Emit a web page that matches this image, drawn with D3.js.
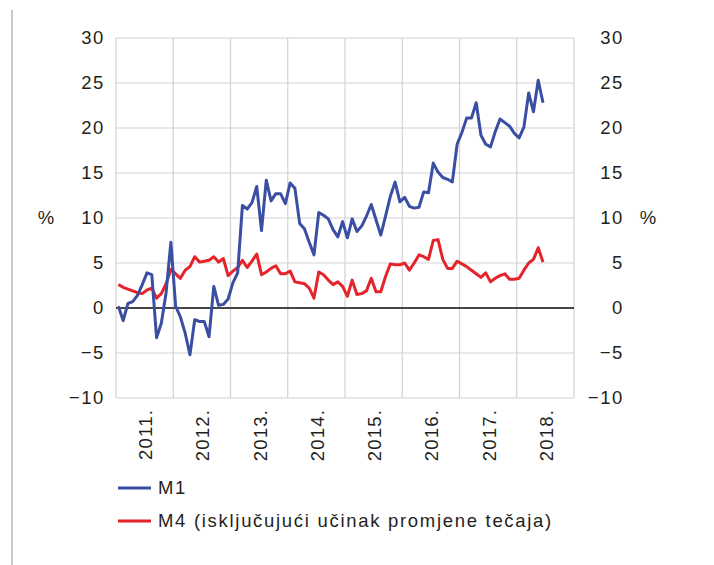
<!DOCTYPE html>
<html>
<head>
<meta charset="utf-8">
<script src="https://cdn.jsdelivr.net/npm/d3@7"></script>
<style>
  body { margin: 0; background: #fff; }
  svg { font-family: "Liberation Sans", Arial, sans-serif; }
</style>
</head>
<body>
<div id="chart"></div>
<script>
// Monthly growth rates, Jan 2011 - Jun 2018
const years = ['2011.', '2012.', '2013.', '2014.', '2015.', '2016.', '2017.', '2018.'];
const m1 = [
  0.2, -1.4, 0.5, 0.7, 1.4, 2.6, 3.9, 3.7, -3.3, -1.7, 1.7, 7.3,
  0.2, -1.0, -2.8, -5.2, -1.3, -1.5, -1.5, -3.2, 2.4, 0.3, 0.4, 1.0,
  2.8, 3.9, 11.4, 11.0, 11.7, 13.5, 8.6, 14.2, 11.9, 12.7, 12.7, 11.6,
  13.9, 13.3, 9.4, 8.8, 7.3, 5.9, 10.6, 10.3, 9.9, 8.7, 7.9, 9.6,
  7.8, 9.9, 8.5, 9.1, 10.2, 11.5, 9.8, 8.1, 10.2, 12.4, 14.0, 11.8,
  12.3, 11.3, 11.1, 11.2, 12.9, 12.8, 16.1, 15.1, 14.5, 14.3, 14.0, 18.2,
  19.5, 21.1, 21.1, 22.8, 19.2, 18.2, 17.9, 19.6, 21.0, 20.6, 20.2, 19.4,
  18.9, 20.1, 23.9, 21.8, 25.3, 22.8
];
const m4 = [
  2.6, 2.3, 2.1, 1.9, 1.7, 1.6, 2.0, 2.2, 1.1, 1.6, 2.7, 4.3,
  3.8, 3.3, 4.2, 4.6, 5.7, 5.1, 5.2, 5.3, 5.7, 5.1, 5.5, 3.6,
  4.1, 4.5, 5.3, 4.5, 5.2, 6.0, 3.7, 4.0, 4.4, 4.7, 3.8, 3.8,
  4.1, 2.9, 2.8, 2.7, 2.2, 1.1, 4.0, 3.7, 3.1, 2.6, 2.9, 2.4,
  1.3, 3.1, 1.5, 1.6, 1.9, 3.3, 1.8, 1.8, 3.5, 4.9, 4.8, 4.8,
  5.0, 4.2, 5.0, 5.9, 5.7, 5.4, 7.5, 7.6, 5.4, 4.4, 4.4, 5.2,
  4.9, 4.6, 4.2, 3.8, 3.4, 3.9, 2.9, 3.3, 3.6, 3.8, 3.2, 3.2,
  3.3, 4.2, 5.0, 5.4, 6.7, 5.1
];
const yTicks = [-10, -5, 0, 5, 10, 15, 20, 25, 30];
const legendLabels = ['M1', 'M4 (isključujući učinak promjene tečaja)'];
const colors = ['#3a4ea3', '#e5232b'];

const W = 714, H = 565;
const plot = { left: 116, right: 574, top: 38, bottom: 398 };
const textColor = '#231f20';

const svg = d3.select('#chart').append('svg')
  .attr('width', W).attr('height', H);

// thin frame line on the left of the page
svg.append('line')
  .attr('x1', 12).attr('x2', 12).attr('y1', 10).attr('y2', H)
  .attr('stroke', '#c8c8c8').attr('stroke-width', 2);

const x = d3.scaleLinear().domain([0, years.length * 12]).range([plot.left, plot.right]);
const xBand = d3.scaleBand().domain(years).range([plot.left, plot.right]);
const y = d3.scaleLinear().domain([-10, 30]).range([plot.bottom, plot.top]);

// grid
svg.append('g')
  .selectAll('line')
  .data(yTicks)
  .join('line')
  .attr('x1', plot.left).attr('x2', plot.right)
  .attr('y1', d => y(d)).attr('y2', d => y(d))
  .attr('stroke', '#d2d2d2').attr('stroke-width', 1.2);

svg.append('g')
  .selectAll('line')
  .data(d3.range(years.length + 1))
  .join('line')
  .attr('x1', d => x(d * 12)).attr('x2', d => x(d * 12))
  .attr('y1', plot.top).attr('y2', plot.bottom)
  .attr('stroke', '#d2d2d2').attr('stroke-width', 1.2);

// zero line
svg.append('line')
  .attr('x1', plot.left).attr('x2', plot.right)
  .attr('y1', y(0)).attr('y2', y(0))
  .attr('stroke', '#111').attr('stroke-width', 1.3);

// y axes (trailing letter-spacing is compensated in the offset)
const fmt = d3.format('d');
const axL = svg.append('g')
  .attr('transform', `translate(${plot.left - 11},0)`)
  .call(d3.axisLeft(y).tickValues(yTicks).tickSize(0).tickPadding(0).tickFormat(fmt));
const axR = svg.append('g')
  .attr('transform', `translate(624,0)`)
  .call(d3.axisLeft(y).tickValues(yTicks).tickSize(0).tickPadding(0).tickFormat(fmt));
[axL, axR].forEach(a => {
  a.select('.domain').remove();
  a.selectAll('text')
    .attr('fill', textColor)
    .style('font-size', '18.5px')
    .style('letter-spacing', '1.6px')
    .style('font-family', '"Liberation Sans", Arial, sans-serif');
});

[46, 648].forEach(px => {
  svg.append('text').attr('x', px).attr('y', y(10)).attr('dy', '0.35em')
    .attr('text-anchor', 'middle').attr('fill', textColor)
    .style('font-size', '18.5px').text('%');
});

// year labels (rotated)
svg.append('g')
  .selectAll('text')
  .data(years)
  .join('text')
  .attr('transform', d => `translate(${xBand(d) + xBand.bandwidth() / 2 + 1},${plot.bottom + 11}) rotate(-90)`)
  .attr('text-anchor', 'end')
  .attr('dy', '0.35em')
  .attr('fill', textColor)
  .style('font-size', '18.5px')
  .style('letter-spacing', '1.2px')
  .text(d => d);

// lines
const line = d3.line()
  .x((d, i) => x(i + 0.5))
  .y(d => y(d));

[m4, m1].forEach((s, k) => {
  svg.append('path')
    .datum(s)
    .attr('fill', 'none')
    .attr('stroke', k === 0 ? colors[1] : colors[0])
    .attr('stroke-width', 3)
    .attr('stroke-linejoin', 'round')
    .attr('d', line);
});

// legend
const lg = svg.append('g');
legendLabels.forEach((lab, i) => {
  const ly = 488 + i * 33;
  lg.append('line')
    .attr('x1', 118).attr('x2', 151)
    .attr('y1', ly).attr('y2', ly)
    .attr('stroke', colors[i]).attr('stroke-width', 3);
  lg.append('text')
    .attr('x', 158).attr('y', ly).attr('dy', '0.35em')
    .attr('fill', textColor)
    .style('font-size', '18.5px')
    .style('letter-spacing', '1.7px')
    .text(lab);
});
</script>
</body>
</html>
